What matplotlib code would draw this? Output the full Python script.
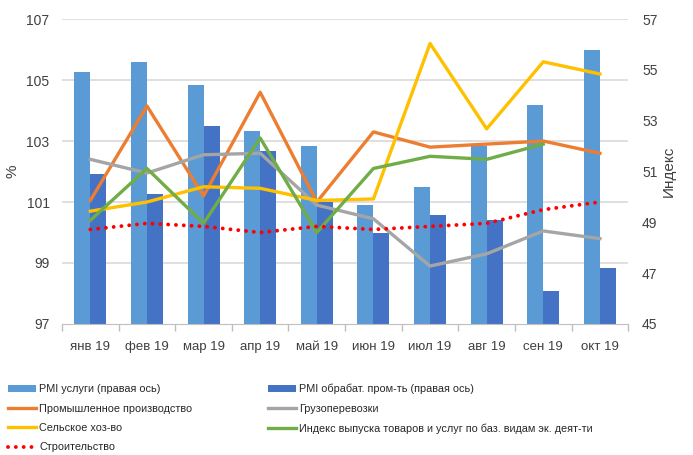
import numpy as np
import matplotlib
matplotlib.use("Agg")
import matplotlib.pyplot as plt

plt.rcParams['font.family'] = ['Liberation Sans', 'DejaVu Sans']

months = ["янв 19", "фев 19", "мар 19", "апр 19", "май 19",
          "июн 19", "июл 19", "авг 19", "сен 19", "окт 19"]

# right axis (index)
pmi_services = [54.9, 55.3, 54.4, 52.6, 52.0, 49.7, 50.4, 52.0, 53.6, 55.8]
pmi_manuf = [50.9, 50.1, 52.8, 51.8, 49.8, 48.6, 49.3, 49.1, 46.3, 47.2]

# left axis (%)
industry = [101.05, 104.15, 101.2, 104.6, 101.0, 103.3, 102.8, 102.9, 103.0, 102.6]
freight = [102.4, 101.95, 102.55, 102.6, 100.9, 100.45, 98.9, 99.3, 100.05, 99.8]
agro = [100.7, 101.0, 101.5, 101.45, 101.05, 101.1, 106.2, 103.4, 105.6, 105.2]
output_idx = [100.4, 102.1, 100.3, 103.1, 100.0, 102.1, 102.5, 102.4, 102.9]
construction = [100.1, 100.3, 100.2, 100.0, 100.2, 100.1, 100.2, 100.3, 100.75, 101.0]

left_ticks = [97, 99, 101, 103, 105, 107]
right_ticks = [45, 47, 49, 51, 53, 55, 57]

fig = plt.figure(figsize=(6.93, 4.55), dpi=100)
ax2 = fig.add_axes([0.0895, 0.288, 0.817, 0.670])
ax = ax2.twinx()
# lines axis on the left, bars axis on the right
ax.yaxis.tick_left()
ax.yaxis.set_label_position("left")
ax2.yaxis.tick_right()
ax2.yaxis.set_label_position("right")
ax.set_zorder(ax2.get_zorder() + 1)
ax.patch.set_visible(False)

x = np.arange(len(months))
w = 0.283

ax.set_ylim(97, 107)
ax2.set_ylim(45, 57)
ax2.set_xlim(-0.5, len(months) - 0.5)

# gridlines behind the bars, at left axis ticks
for v in left_ticks[1:]:
    ax2.plot([0, 1], [v, v], transform=ax.get_yaxis_transform(),
             color="#d9d9d9", lw=1.2, zorder=0)

b1 = ax2.bar(x - w / 2, pmi_services, w, color="#5B9BD5", zorder=2,
             label="PMI услуги (правая ось)")
b2 = ax2.bar(x + w / 2, pmi_manuf, w, color="#4472C4", zorder=2,
             label="PMI обрабат. пром-ть (правая ось)")

l1, = ax.plot(x, industry, color="#ED7D31", lw=2.4, label="Промышленное производство")
l2, = ax.plot(x, freight, color="#A5A5A5", lw=2.4, label="Грузоперевозки")
l3, = ax.plot(x, agro, color="#FFC000", lw=2.4, label="Сельское хоз-во")
l4, = ax.plot(x[:len(output_idx)], output_idx, color="#70AD47", lw=2.4,
              label="Индекс выпуска товаров и услуг по баз. видам эк. деят-ти")
l5, = ax.plot(x, construction, color="#FF0000", lw=2.8, linestyle=(0, (0.01, 2.0)),
              dash_capstyle="round", label="Строительство")

ax.set_yticks(left_ticks)
ax2.set_yticks(right_ticks)
ax2.set_xticks(x)
ax2.set_xticklabels(months)
ax2.set_xticks(np.arange(len(months) + 1) - 0.5, minor=True)
ax2.tick_params(axis="x", which="minor", length=5, color="#bfbfbf", width=1)
ax2.tick_params(axis="x", which="major", length=0, pad=12, labelsize=9.5, colors="#404040")
ax.tick_params(axis="y", length=0, pad=9, labelsize=10, colors="#404040")
ax2.tick_params(axis="y", length=0, pad=10, labelsize=10, colors="#404040")

for a in (ax, ax2):
    for s in ("top", "left", "right"):
        a.spines[s].set_visible(False)
ax.spines["bottom"].set_visible(False)
ax2.spines["bottom"].set_color("#bfbfbf")

ax.set_ylabel("%", fontsize=11, color="#404040", labelpad=5)
ax2.set_ylabel("Индекс", fontsize=11, color="#404040", labelpad=3)

handles = [b1, l1, l3, l5, b2, l2, l4]
leg = fig.legend(handles, [h.get_label() for h in handles], ncol=2,
                 loc="upper left", bbox_to_anchor=(0.011, 0.156), frameon=False,
                 fontsize=7.8, handlelength=2.6, handleheight=0.6,
                 handletextpad=0.3, labelspacing=0.86, columnspacing=7.0,
                 borderaxespad=0, borderpad=0)
for t in leg.get_texts():
    t.set_color("#262626")

fig.savefig("out.png", dpi=100)
